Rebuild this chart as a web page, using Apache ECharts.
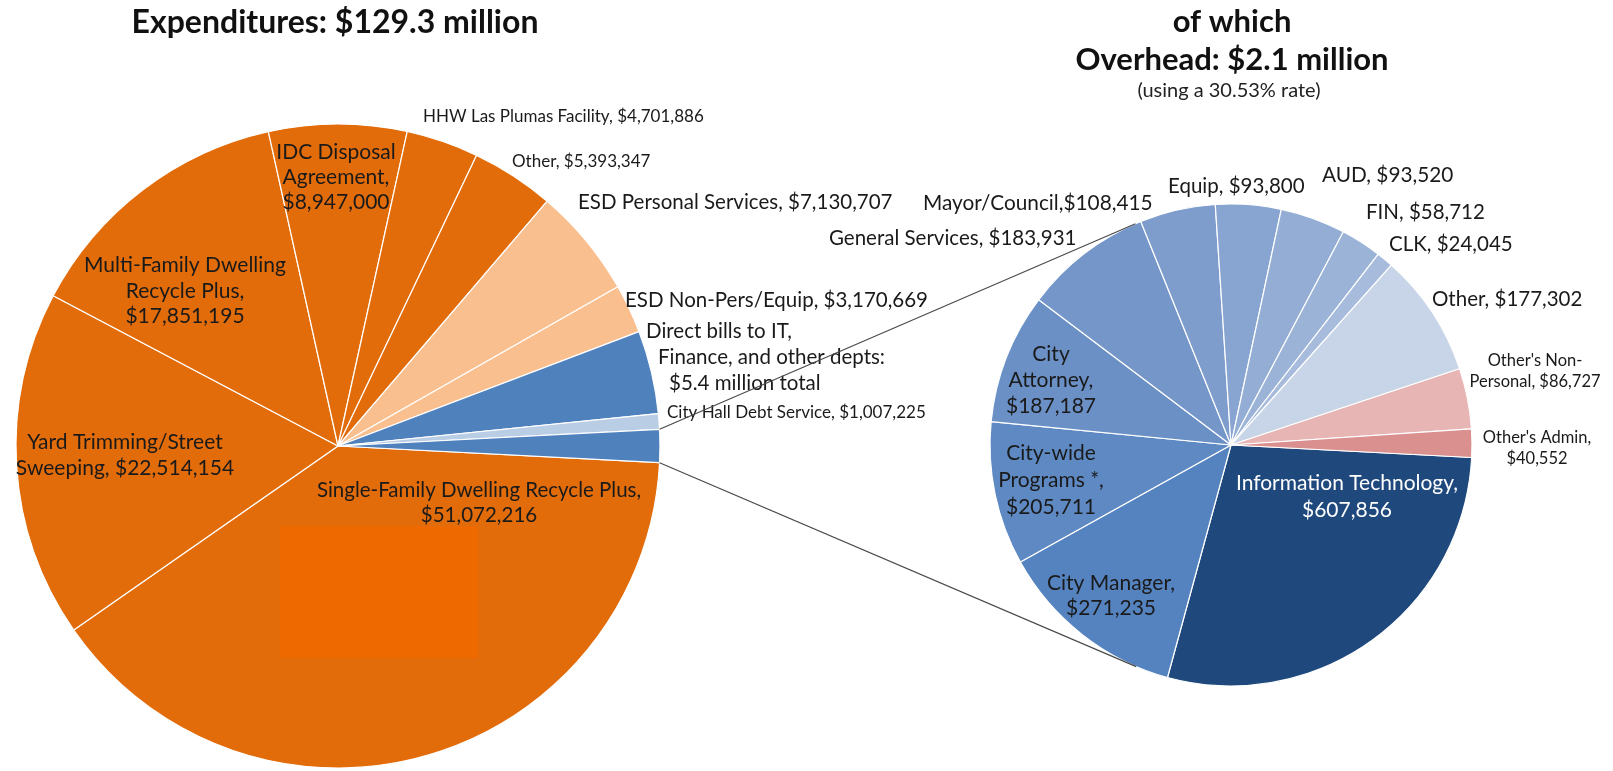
<!DOCTYPE html>
<html>
<head>
<meta charset="utf-8">
<title>Expenditures and overhead</title>
<script src="https://cdn.jsdelivr.net/npm/echarts@6/dist/echarts.min.js"></script>
<style>
  html, body { margin: 0; padding: 0; background: #ffffff; }
  #chart { width: 1613px; height: 771px; }
</style>
</head>
<body>
<div id="chart"></div>
<script>
// ---- Data -------------------------------------------------------------
// Expenditures by program (left pie). Line breaks mark where the label wraps.
const expenseNames = [
  'Single-Family Dwelling Recycle Plus',
  'Yard Trimming/Street\nSweeping',
  'Multi-Family Dwelling\nRecycle Plus',
  'IDC Disposal\nAgreement',
  'HHW Las Plumas Facility',
  'Other',
  'ESD Personal Services',
  'ESD Non-Pers/Equip',
  'Direct bills to IT,\nFinance, and other depts',
  'City Hall Debt Service',
  'Overhead'
];
const expenseValues = [
  51072216, 22514154, 17851195, 8947000, 4701886, 5393347,
  7130707, 3170669, 5400000, 1007225, 2138993
];

// Overhead breakdown (right pie)
const overheadNames = [
  'Information Technology',
  'City Manager',
  'City-wide\nPrograms *',
  'City\nAttorney',
  'General Services',
  'Mayor/Council',
  'Equip',
  'AUD',
  'FIN',
  'CLK',
  'Other',
  "Other's Non-\nPersonal",
  "Other's Admin"
];
const overheadValues = [
  607856, 271235, 205711, 187187, 183931, 108415,
  93800, 93520, 58712, 24045, 177302, 86727, 40552
];

// Title texts
const leftTitle = 'Expenditures: $129.3 million';
const rightTitleLines = ['of which', 'Overhead: $2.1 million'];
const rightSubtitle = '(using a 30.53% rate)';

// ---- Styles & layout --------------------------------------------------
const FONT = 'Lato, "Open Sans", sans-serif';
const TEXT = '#1a1a1a';
const LEFT = { cx: 338, cy: 446, r: 322 };
const RIGHT = { cx: 1231, cy: 445, r: 241 };

const expenseColors = [
  '#E36C0A', '#E36C0A', '#E36C0A', '#E36C0A', '#E36C0A', '#E36C0A',
  '#F9BF8F', '#F9BF8F', '#4F81BD', '#B9CDE5', '#4F81BD'
];
const overheadColors = [
  '#1F497D', '#5583C0', '#5E89C3', '#6A90C6', '#7496C9', '#7E9DCD',
  '#88A5D1', '#93ADD5', '#9CB3D8', '#A7BBDC', '#C8D4E8', '#E6B5B4', '#D9908E'
];

// separator between name and value, label anchor, font size, alignment
const expenseLabels = [
  { sep: ',\n', x: 479, y: 503, size: 20.5, lh: 25 },
  { sep: ', ',  x: 125, y: 455, size: 21, lh: 26 },
  { sep: ',\n', x: 185, y: 291, size: 21, lh: 25.5 },
  { sep: ',\n', x: 336, y: 177, size: 21, lh: 25 },
  { sep: ', ',  x: 423, y: 117, size: 17, align: 'left' },
  { sep: ', ',  x: 512, y: 162, size: 17, align: 'left' },
  { sep: ', ',  x: 578, y: 202, size: 20.5, align: 'left' },
  { sep: ', ',  x: 625, y: 300, size: 20.5, align: 'left' },
  { rich: true, x: 646, y: 357, size: 20.5, align: 'left', lh: 26 },
  { sep: ', ',  x: 667, y: 413, size: 17, align: 'left' }
];
const overheadLabels = [
  { sep: ',\n', x: 1347, y: 497, size: 21, lh: 27, color: '#ffffff' },
  { sep: ',\n', x: 1111, y: 596, size: 21, lh: 25 },
  { sep: ',\n', x: 1051, y: 480, size: 21, lh: 27 },
  { sep: ',\n', x: 1051, y: 380, size: 21, lh: 26 },
  { sep: ', ',  x: 829,  y: 238, size: 20.5, align: 'left' },
  { sep: ',',   x: 923,  y: 203, size: 20.8, align: 'left' },
  { sep: ', ',  x: 1168, y: 186, size: 20.5, align: 'left' },
  { sep: ', ',  x: 1322, y: 175, size: 20.8, align: 'left' },
  { sep: ', ',  x: 1366, y: 212, size: 20.5, align: 'left' },
  { sep: ', ',  x: 1389, y: 244, size: 20.5, align: 'left' },
  { sep: ', ',  x: 1432, y: 299, size: 20.5, align: 'left' },
  { sep: ', ',  x: 1535, y: 371, size: 16.5, lh: 21 },
  { sep: ',\n', x: 1537, y: 448, size: 16.5, lh: 21 }
];

const fmtMoney = v => '$' + v.toLocaleString('en-US');

function buildData(names, values, colors, labels) {
  return names.map((name, i) => {
    const cfg = labels[i];
    const item = {
      name: name,
      value: values[i],
      itemStyle: { color: colors[i] }
    };
    if (!cfg) {
      item.label = { show: false };
      return item;
    }
    if (cfg.rich) {
      const parts = name.split('\n');
      const total = '$' + (values[i] / 1e6).toFixed(1) + ' million total';
      const base = { fontFamily: FONT, fontSize: cfg.size, color: TEXT, lineHeight: cfg.lh };
      item.label = {
        show: true,
        formatter: '{a|' + parts[0] + '}\n{b|' + parts[1] + ':}\n{c|' + total + '}',
        rich: {
          a: Object.assign({}, base),
          b: Object.assign({ padding: [0, 0, 0, 12] }, base),
          c: Object.assign({ padding: [0, 0, 0, 23] }, base)
        }
      };
    } else {
      item.label = {
        show: true,
        formatter: name + cfg.sep + fmtMoney(values[i]),
        fontFamily: FONT,
        fontSize: cfg.size,
        lineHeight: cfg.lh || Math.round(cfg.size * 1.3),
        color: cfg.color || TEXT,
        align: cfg.align || 'center'
      };
    }
    return item;
  });
}

function layoutFor(labels) {
  return function (params) {
    const cfg = labels[params.dataIndex];
    if (!cfg) return {};
    return {
      x: cfg.x,
      y: cfg.y,
      align: cfg.align || 'center',
      verticalAlign: 'middle',
      hideOverlap: false,
      moveOverlap: false
    };
  };
}

// Both pies start at the same angle, which centres the overhead slice on the
// right-hand horizontal of the first pie.
const expenseTotal = expenseValues.reduce((a, b) => a + b, 0);
const overheadIdx = expenseNames.length - 1;
const halfOverheadDeg = expenseValues[overheadIdx] / expenseTotal * 180;
const startAngle = -halfOverheadDeg;

// Connector lines: from the edges of the overhead slice to the tangent points
// of the second pie.
function connectorLines() {
  const a = halfOverheadDeg * Math.PI / 180;
  return [-1, 1].map(sign => {
    const p = { x: LEFT.cx + LEFT.r * Math.cos(a), y: LEFT.cy + sign * LEFT.r * Math.sin(a) };
    const dx = p.x - RIGHT.cx, dy = p.y - RIGHT.cy;
    const d = Math.hypot(dx, dy);
    const phi = Math.atan2(dy, dx);
    const alpha = Math.acos(RIGHT.r / d);
    const t = phi - sign * alpha;
    const q = { x: RIGHT.cx + RIGHT.r * Math.cos(t), y: RIGHT.cy + RIGHT.r * Math.sin(t) };
    return {
      type: 'line',
      z: 20,
      shape: { x1: p.x, y1: p.y, x2: q.x, y2: q.y },
      style: { stroke: '#4a4a4a', lineWidth: 1.2 }
    };
  });
}

const chart = echarts.init(document.getElementById('chart'), null, { renderer: 'canvas' });

const pieBase = {
  type: 'pie',
  clockwise: true,
  startAngle: startAngle,
  avoidLabelOverlap: false,
  silent: true,
  animation: false,
  labelLine: { show: false },
  emphasis: { disabled: true },
  itemStyle: { borderColor: '#ffffff', borderWidth: 1.2 }
};

chart.setOption({
  backgroundColor: '#ffffff',
  animation: false,
  series: [
    Object.assign({}, pieBase, {
      name: 'Expenditures',
      center: [LEFT.cx, LEFT.cy],
      radius: [0, LEFT.r],
      label: { show: true, position: 'inside' },
      labelLayout: layoutFor(expenseLabels),
      data: buildData(expenseNames, expenseValues, expenseColors, expenseLabels)
    }),
    Object.assign({}, pieBase, {
      name: 'Overhead',
      center: [RIGHT.cx, RIGHT.cy],
      radius: [0, RIGHT.r],
      label: { show: true, position: 'inside' },
      labelLayout: layoutFor(overheadLabels),
      data: buildData(overheadNames, overheadValues, overheadColors, overheadLabels)
    })
  ],
  graphic: [
    {
      type: 'text', z: 20, x: 335, y: 23,
      style: {
        text: leftTitle, fill: '#111', fontFamily: FONT, fontWeight: 'bold',
        fontSize: 32, align: 'center', verticalAlign: 'middle'
      }
    },
    {
      type: 'text', z: 20, x: 1232, y: 41,
      style: {
        text: rightTitleLines.join('\n'), fill: '#111', fontFamily: FONT, fontWeight: 'bold',
        fontSize: 31, lineHeight: 38, align: 'center', verticalAlign: 'middle'
      }
    },
    {
      type: 'text', z: 20, x: 1229, y: 91,
      style: {
        text: rightSubtitle, fill: '#222', fontFamily: FONT,
        fontSize: 20, align: 'center', verticalAlign: 'middle'
      }
    },
    // solid block inside the largest slice
    {
      type: 'rect', z: 10,
      shape: { x: 280, y: 526, width: 198, height: 132 },
      style: { fill: '#EE6A00' }
    }
  ].concat(connectorLines())
});
</script>
</body>
</html>
